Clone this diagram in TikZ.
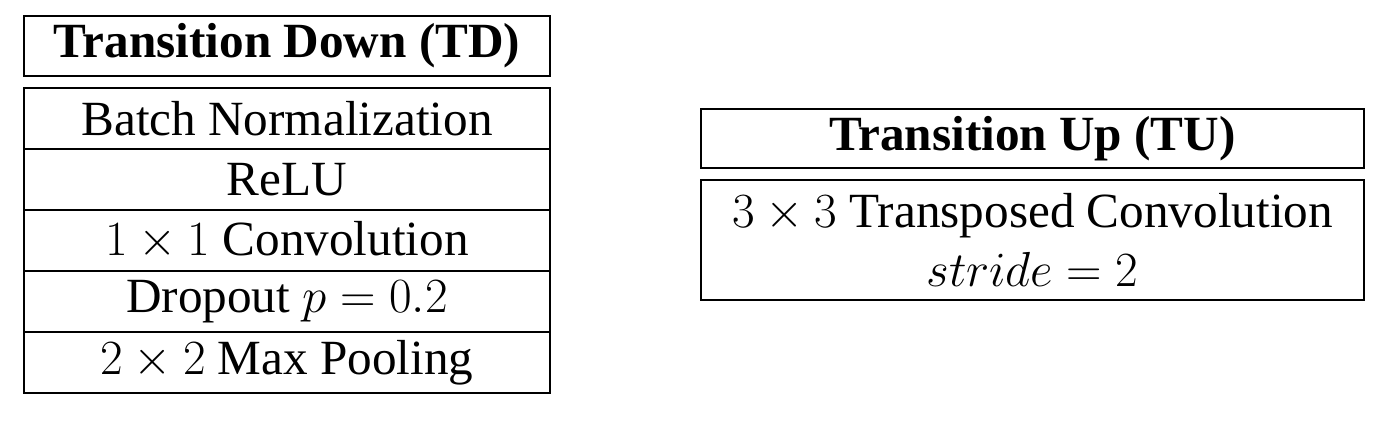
\RequirePackage{fix-cm}
\documentclass[tikz,border=0pt]{standalone}
\usepackage{amsmath}
\usepackage{fontspec}
\setmainfont{Liberation Serif}
\usepackage{tikz}
\usetikzlibrary{positioning}
\tikzset{
  layerbox/.style={draw,line width=1pt,inner sep=0pt,outer sep=0pt,minimum width=10.52cm,minimum height=1.22cm,font=\fontsize{28}{34}\selectfont},
  upbox/.style={layerbox,minimum width=13.26cm},
  titlebox/.style={minimum height=1.2cm,font=\fontsize{28}{34}\selectfont\bfseries}
}

\begin{document}
\begin{tikzpicture}[x=0.02cm,y=-0.02cm]
    \useasboundingbox (0,0) rectangle (1400,421);
    % transition down
    \node[layerbox,titlebox] (tdtitle) at (287,46) {Transition Down (TD)};
    \node[layerbox] (bn) at (287,118.5) {Batch Normalization};
    \node[layerbox,below=0pt of bn] (relu) {ReLU};
    \node[layerbox,below=0pt of relu] (conv) {$1\times1$ Convolution};
    \node[layerbox,below=0pt of conv] (drop) {Dropout $p=0.2$};
    \node[layerbox,below=0pt of drop] (pool) {$2\times2$ Max Pooling};
    % transition up
    \node[upbox,titlebox,minimum height=1.18cm] (tutitle) at (1032.5,138.5) {Transition Up (TU)};
    \node[upbox,minimum height=2.4cm,align=center] (tconv) at (1032.5,240) {$3\times3$ Transposed Convolution\\$stride=2$};
  \end{tikzpicture}
\end{document}
